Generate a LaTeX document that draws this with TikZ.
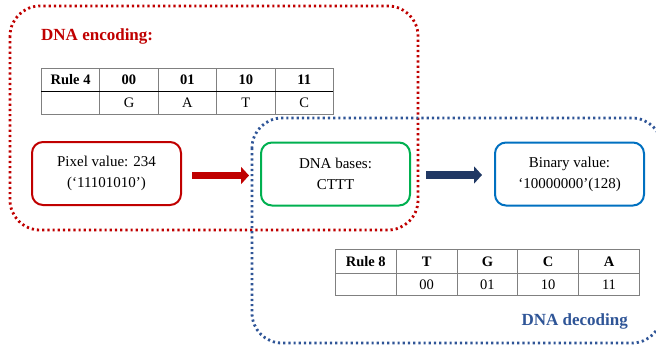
\documentclass[tikz,border=0pt]{standalone}
\usepackage{fontspec}
\setmainfont{Liberation Serif}
\usetikzlibrary{matrix,arrows.meta}
\definecolor{encred}{HTML}{C00000}
\definecolor{decblue}{HTML}{2F5597}
\definecolor{boxgreen}{HTML}{00B050}
\definecolor{boxblue}{HTML}{0070C0}
\definecolor{arrblue}{HTML}{203864}
\definecolor{tabgray}{HTML}{808080}
\tikzset{
  dotframe/.style={line width=2.8pt, dash pattern=on 2.2pt off 3pt, rounded corners=30pt},
  valbox/.style={draw, line width=2pt, rounded corners=11pt, minimum width=149pt, minimum height=63pt,
    align=center, inner sep=0pt, font=\fontsize{15}{21}\selectfont},
  fatarrow/.style={line width=7.5pt, -{Triangle[length=8pt,width=17pt]}},
  tabcell/.style={draw=tabgray, line width=0.8pt, inner sep=0pt, anchor=center,
    font=\fontsize{14.5}{17}\selectfont},
  headcell/.style={font=\fontsize{14.5}{17}\selectfont\bfseries},
  tabmatrix/.style={matrix of nodes, nodes in empty cells, anchor=north west,
    inner sep=0pt, outer sep=0pt, column sep=-0.8pt, row sep=-0.8pt},
  title/.style={font=\fontsize{17}{20}\selectfont\bfseries, inner sep=0pt}
}
\begin{document}
\begin{tikzpicture}[x=1pt,y=-1pt]
\useasboundingbox (0,0) rectangle (656,351);
% frames
\draw[dotframe, encred] (10,6) rectangle (418,230);
\draw[dotframe, decblue] (252,118) rectangle (662,343);
% titles
\node[title, text=encred, anchor=west] (enc) at (41,36) {DNA encoding:};
\node[title, text=decblue, anchor=east] (dec) at (628,321) {DNA decoding};
% table 1
\matrix (t1) [tabmatrix,
  nodes={tabcell, minimum width=58.4pt, minimum height=23pt}] at (41,68) {
  |[headcell]| Rule 4 & |[headcell]| 00 & |[headcell]| 01 & |[headcell]| 10 & |[headcell]| 11 \\
   & G & A & T & C \\
};
\draw[line width=0.9pt] (t1-2-1.north west) -- (t1-2-5.north east);
% table 2
\matrix (t2) [tabmatrix,
  nodes={tabcell, minimum width=60.8pt}] at (335,249) {
  |[minimum height=24pt, headcell]| Rule 8 & |[minimum height=24pt, headcell]| T & |[minimum height=24pt, headcell]| G & |[minimum height=24pt, headcell]| C & |[minimum height=24pt, headcell]| A \\
  |[minimum height=22pt]| & |[minimum height=22pt]| 00 & |[minimum height=22pt]| 01 & |[minimum height=22pt]| 10 & |[minimum height=22pt]| 11 \\
};
% value boxes
\node[valbox, draw=encred] (pix) at (106.5,173.5) {Pixel value: 234\\(‘11101010’)};
\node[valbox, draw=boxgreen] (bases) at (335.5,174) {DNA bases:\\CTTT};
\node[valbox, draw=boxblue] (bin) at (569.5,174) {Binary value:\\‘10000000’(128)};
% arrows
\draw[fatarrow, encred] ([xshift=10pt,yshift=-2pt]pix.east) -- ([xshift=-11pt,yshift=-2pt]pix.east -| bases.west);
\draw[fatarrow, arrblue] ([xshift=15pt,yshift=-1pt]bases.east) -- ([xshift=-12pt,yshift=-1pt]bases.east -| bin.west);
\end{tikzpicture}
\end{document}
